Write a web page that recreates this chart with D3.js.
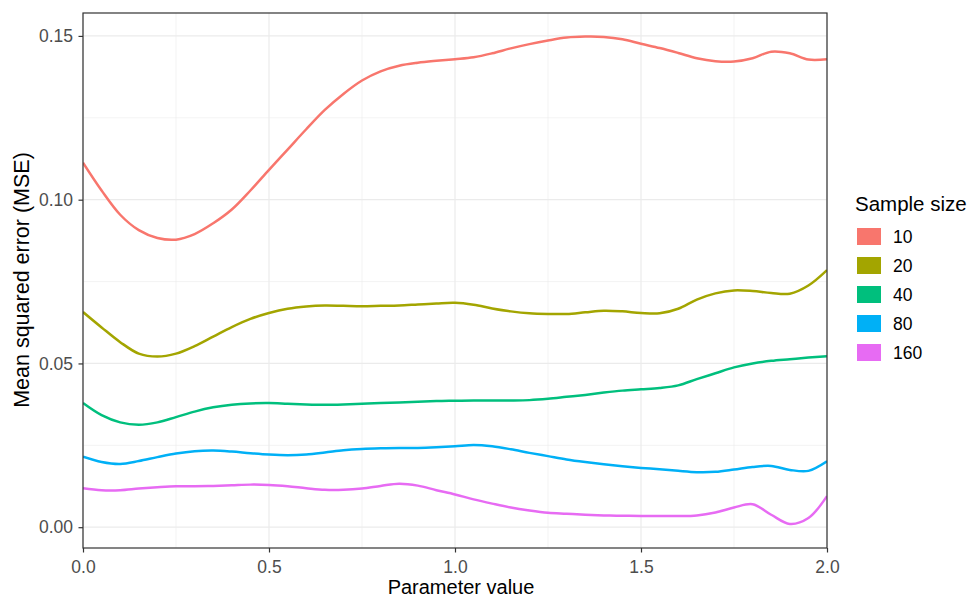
<!DOCTYPE html>
<html>
<head>
<meta charset="utf-8">
<script src="https://cdn.jsdelivr.net/npm/d3@7"></script>
<style>
  body { margin: 0; background: #fff; }
  text { font-family: "Liberation Sans", Arial, sans-serif; }
</style>
</head>
<body>
<svg id="canvas"></svg>
<script>
// parameter grid shared by every series
const params = [0.00, 0.05, 0.10, 0.15, 0.20, 0.25, 0.30, 0.35, 0.40, 0.45,
  0.50, 0.55, 0.60, 0.65, 0.70, 0.75, 0.80, 0.85, 0.90, 0.95,
  1.00, 1.05, 1.10, 1.15, 1.20, 1.25, 1.30, 1.35, 1.40, 1.45,
  1.50, 1.55, 1.60, 1.65, 1.70, 1.75, 1.80, 1.85, 1.90, 1.95, 2.00];

const mse10 = [0.1113, 0.1028, 0.0954, 0.0907, 0.0883, 0.0878, 0.0895, 0.0928, 0.0970, 0.1028,
  0.1091, 0.1153, 0.1215, 0.1274, 0.1323, 0.1364, 0.1392, 0.1409, 0.1418, 0.1424,
  0.1429, 0.1435, 0.1447, 0.1462, 0.1475, 0.1486, 0.1495, 0.1498, 0.1497, 0.1490,
  0.1476, 0.1463, 0.1448, 0.1432, 0.1423, 0.1422, 0.1432, 0.1452, 0.1447, 0.1428, 0.1429];
const mse20 = [0.0657, 0.0610, 0.0565, 0.0530, 0.0521, 0.0530, 0.0553, 0.0582, 0.0611, 0.0636,
  0.0654, 0.0667, 0.0674, 0.0677, 0.0676, 0.0675, 0.0676, 0.0677, 0.0680, 0.0683,
  0.0685, 0.0679, 0.0668, 0.0659, 0.0653, 0.0651, 0.0651, 0.0656, 0.0661, 0.0659,
  0.0654, 0.0653, 0.0667, 0.0695, 0.0714, 0.0723, 0.0721, 0.0715, 0.0713, 0.0738, 0.0785];
const mse40 = [0.0379, 0.0342, 0.0320, 0.0313, 0.0320, 0.0336, 0.0353, 0.0366, 0.0374, 0.0378,
  0.0379, 0.0377, 0.0375, 0.0374, 0.0375, 0.0377, 0.0379, 0.0381, 0.0383, 0.0385,
  0.0386, 0.0387, 0.0387, 0.0387, 0.0388, 0.0392, 0.0398, 0.0404, 0.0411, 0.0417,
  0.0421, 0.0425, 0.0433, 0.0452, 0.0470, 0.0488, 0.0500, 0.0508, 0.0513, 0.0518, 0.0522];
const mse80 = [0.0215, 0.0199, 0.0193, 0.0202, 0.0214, 0.0225, 0.0232, 0.0234, 0.0231, 0.0226,
  0.0222, 0.0220, 0.0222, 0.0228, 0.0235, 0.0239, 0.0241, 0.0242, 0.0242, 0.0244,
  0.0247, 0.0251, 0.0247, 0.0238, 0.0227, 0.0217, 0.0207, 0.0199, 0.0192, 0.0186,
  0.0181, 0.0177, 0.0172, 0.0168, 0.0169, 0.0176, 0.0184, 0.0187, 0.0175, 0.0172, 0.0201];
const mse160 = [0.0119, 0.0113, 0.0113, 0.0118, 0.0122, 0.0125, 0.0125, 0.0126, 0.0128, 0.0130,
  0.0129, 0.0125, 0.0119, 0.0114, 0.0114, 0.0118, 0.0126, 0.0133, 0.0127, 0.0113,
  0.0100, 0.0085, 0.0072, 0.0060, 0.0051, 0.0044, 0.0041, 0.0038, 0.0036, 0.0035,
  0.0034, 0.0034, 0.0034, 0.0036, 0.0045, 0.0060, 0.0070, 0.0038, 0.0010, 0.0028, 0.0095];

const sampleSizes = ["10", "20", "40", "80", "160"];
const seriesValues = [mse10, mse20, mse40, mse80, mse160];
const colors = ["#F8766D", "#A3A500", "#00BF7D", "#00B0F6", "#E76BF3"];

const xTicks = [0, 0.5, 1, 1.5, 2];
const xMinor = [0.25, 0.75, 1.25, 1.75];
const yTicks = [0, 0.05, 0.1, 0.15];
const yMinor = [0.025, 0.075, 0.125];

const width = 967;
const height = 596;
const panelLeft = 83;
const panelRight = 827;
const panelTop = 13;
const panelBottom = 548;

const canvas = d3.select("#canvas").attr("width", width).attr("height", height);

const xScale = d3.scaleLinear().domain([0, 2]).range([panelLeft, panelRight]);
const yScale = d3.scaleLinear().domain([-0.00635, 0.157]).range([panelBottom, panelTop]);

// grid
const grid = canvas.append("g");
grid.selectAll(".xminor").data(xMinor).enter().append("line")
  .attr("x1", (d) => xScale(d)).attr("x2", (d) => xScale(d))
  .attr("y1", panelTop).attr("y2", panelBottom)
  .attr("stroke", "#ebebeb").attr("stroke-width", 0.6);
grid.selectAll(".yminor").data(yMinor).enter().append("line")
  .attr("x1", panelLeft).attr("x2", panelRight)
  .attr("y1", (d) => yScale(d)).attr("y2", (d) => yScale(d))
  .attr("stroke", "#ebebeb").attr("stroke-width", 0.6);
grid.selectAll(".xmajor").data(xTicks).enter().append("line")
  .attr("x1", (d) => xScale(d)).attr("x2", (d) => xScale(d))
  .attr("y1", panelTop).attr("y2", panelBottom)
  .attr("stroke", "#ebebeb").attr("stroke-width", 1.2);
grid.selectAll(".ymajor").data(yTicks).enter().append("line")
  .attr("x1", panelLeft).attr("x2", panelRight)
  .attr("y1", (d) => yScale(d)).attr("y2", (d) => yScale(d))
  .attr("stroke", "#ebebeb").attr("stroke-width", 1.2);

canvas.append("clipPath").attr("id", "clip")
  .append("rect")
  .attr("x", panelLeft).attr("y", panelTop)
  .attr("width", panelRight - panelLeft).attr("height", panelBottom - panelTop);

// lines
const line = d3.line()
  .x((d) => xScale(d[0]))
  .y((d) => yScale(d[1]))
  .curve(d3.curveCatmullRom);

canvas.append("g")
  .attr("clip-path", "url(#clip)")
  .selectAll("path")
  .data(seriesValues)
  .enter()
  .append("path")
  .attr("d", (vals) => line(params.map((p, i) => [p, vals[i]])))
  .attr("fill", "none")
  .attr("stroke", (d, i) => colors[i])
  .attr("stroke-width", 2.5)
  .attr("stroke-linejoin", "round");

// axes
const xAxis = d3.axisBottom(xScale).tickValues(xTicks).tickFormat(d3.format(".1f"))
  .tickSize(4.5).tickPadding(8);
const yAxis = d3.axisLeft(yScale).tickValues(yTicks).tickFormat(d3.format(".2f"))
  .tickSize(4.5).tickPadding(5.5);

const gx = canvas.append("g")
  .attr("transform", `translate(0, ${panelBottom})`)
  .call(xAxis);
const gy = canvas.append("g")
  .attr("transform", `translate(${panelLeft}, 0)`)
  .call(yAxis);

[gx, gy].forEach((g) => {
  g.select(".domain").remove();
  g.selectAll(".tick line").attr("stroke", "#333333").attr("stroke-width", 1.2);
  g.selectAll(".tick text")
    .attr("fill", "#4d4d4d")
    .style("font-size", "17.5px")
    .style("font-family", "'Liberation Sans', Arial, sans-serif");
});

// panel border
canvas.append("rect")
  .attr("x", panelLeft).attr("y", panelTop)
  .attr("width", panelRight - panelLeft).attr("height", panelBottom - panelTop)
  .attr("fill", "none")
  .attr("stroke", "#333333")
  .attr("stroke-width", 1.2);

// titles
canvas.append("text")
  .attr("x", 461)
  .attr("y", 593.5)
  .attr("text-anchor", "middle")
  .style("font-size", "20px")
  .text("Parameter value");

canvas.append("text")
  .attr("transform", `translate(29, 280) rotate(-90)`)
  .attr("text-anchor", "middle")
  .style("font-size", "21.5px")
  .text("Mean squared error (MSE)");

// legend
const legend = canvas.append("g").attr("transform", "translate(855, 0)");
legend.append("text")
  .attr("x", 0)
  .attr("y", 211)
  .style("font-size", "20.5px")
  .text("Sample size");

const items = legend.selectAll(".item")
  .data(sampleSizes)
  .enter()
  .append("g")
  .attr("transform", (d, i) => `translate(0, ${227.5 + i * 29})`);

items.append("rect")
  .attr("x", 2).attr("y", 0.5)
  .attr("width", 24).attr("height", 17)
  .attr("fill", (d, i) => colors[i]);

items.append("text")
  .attr("x", 38)
  .attr("y", 15.5)
  .style("font-size", "17.5px")
  .text((d) => d);
</script>
</body>
</html>
